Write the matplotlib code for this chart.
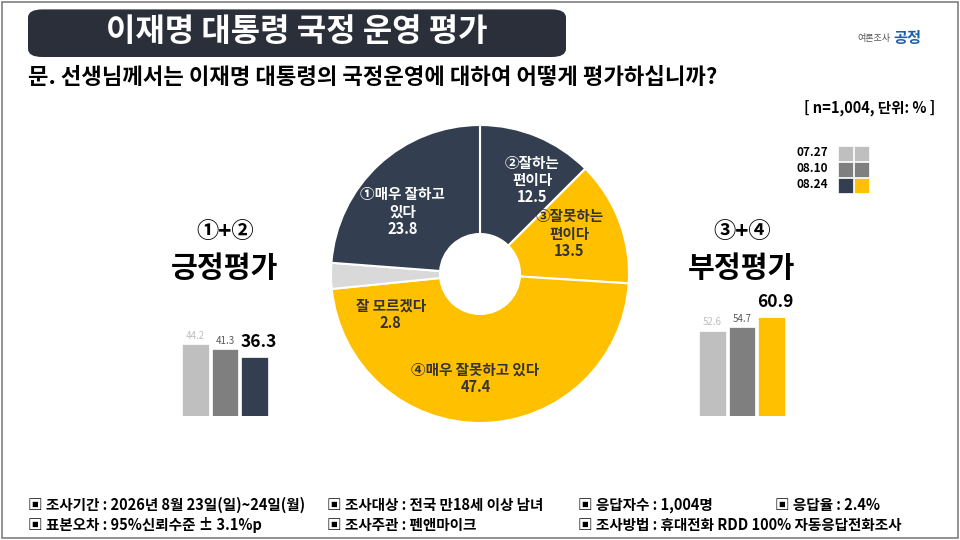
import matplotlib.pyplot as plt
from matplotlib.patches import FancyBboxPatch, Rectangle

plt.rcParams['font.family'] = ['Noto Sans CJK KR', 'DejaVu Sans']

pie_labels = ["②잘하는\n편이다", "③잘못하는\n편이다", "④매우 잘못하고 있다", "잘 모르겠다", "①매우 잘하고\n있다"]
pie_values = [12.5, 13.5, 47.4, 2.8, 23.8]
pie_colors = ["#333f50", "#ffc000", "#ffc000", "#d9d9d9", "#333f50"]

dates = ["07.27", "08.10", "08.24"]
pos_values = [44.2, 41.3, 36.3]
neg_values = [52.6, 54.7, 60.9]
pos_colors = ["#bfbfbf", "#7f7f7f", "#333f50"]
neg_colors = ["#bfbfbf", "#7f7f7f", "#ffc000"]

W, H = 960, 540
fig = plt.figure(figsize=(9.6, 5.4), dpi=100)
fig.patch.set_facecolor("white")

def fx(x):
    return x / W

def fy(y):
    return 1 - y / H

# border
fig.patches.append(Rectangle((0.002, 0.003), 0.996, 0.994, transform=fig.transFigure,
                             fill=False, edgecolor="#7f7f7f", lw=1.2))
# title box
fig.patches.append(FancyBboxPatch((fx(28), fy(57)), fx(538), 53 / H - 0.01, transform=fig.transFigure,
                                  boxstyle="round,pad=0,rounding_size=0.015", facecolor="#2b2f3a",
                                  edgecolor="none"))
fig.text(fx(297), fy(32), "이재명 대통령 국정 운영 평가", color="white", fontsize=23,
         fontweight="bold", ha="center", va="center")
fig.text(fx(890), fy(38), "여론조사", fontsize=6.5, color="#555555", ha="right", va="center")
fig.text(fx(893), fy(38), "공정", fontsize=11, color="#1f5fa8", fontweight="bold", ha="left", va="center")
fig.text(fx(28), fy(78), "문. 선생님께서는 이재명 대통령의 국정운영에 대하여 어떻게 평가하십니까?",
         fontsize=16, fontweight="bold", ha="left", va="center")
fig.text(fx(935), fy(108), "[ n=1,004, 단위: % ]", fontsize=10.5, fontweight="bold",
         ha="right", va="center")

# legend
lc = [["#bfbfbf", "#bfbfbf"], ["#7f7f7f", "#7f7f7f"], ["#333f50", "#ffc000"]]
for i, d in enumerate(dates):
    y = 153 + i * 16
    fig.text(fx(828), fy(y), d, fontsize=8.5, fontweight="bold", ha="right", va="center")
    for j in range(2):
        fig.patches.append(Rectangle((fx(838 + j * 16), fy(y + 8)), fx(15), 15 / H,
                                     transform=fig.transFigure, facecolor=lc[i][j],
                                     edgecolor="white", lw=0.5))

# pie
R = 149
ax = fig.add_axes([fx(480 - R), fy(274 + R), fx(2 * R), 2 * R / H])
wedges, _ = ax.pie(pie_values, colors=pie_colors, startangle=90, counterclock=False,
                   wedgeprops=dict(width=1 - 40 / R, edgecolor="white", lw=1.5))
ax.set_xlim(-1, 1)
ax.set_ylim(-1, 1)
ax.set_aspect("equal")
label_pos = [(0.35, 0.63), (0.6, 0.27), (-0.03, -0.7), (-0.6, -0.27), (-0.52, 0.42)]
txt_colors = ["white", "#333333", "#333333", "#333333", "white"]
for lab, v, (x, y), c in zip(pie_labels, pie_values, label_pos, txt_colors):
    ax.text(x, y, f"{lab}\n{v}", ha="center", va="center", fontsize=10.5,
            fontweight="bold", color=c, linespacing=1.1)

# side bars
def side(x0, head, values, colors, title):
    fig.text(fx(x0 + 44), fy(232), head, fontsize=16, fontweight="bold", ha="center", va="center")
    fig.text(fx(x0 + 44), fy(268), title, fontsize=21, fontweight="bold", ha="center", va="center")
    bx = fig.add_axes([fx(x0), fy(416), fx(88), 130 / H])
    bars = bx.bar(range(3), values, color=colors, width=0.92, edgecolor="white", lw=0.5)
    bx.set_xlim(-0.5, 2.5)
    bx.set_ylim(0, 80)
    bx.axis("off")
    for k, (b, v) in enumerate(zip(bars, values)):
        if k == 2:
            bx.text(b.get_x() + b.get_width() / 2 + 0.15, v + 4, f"{v}", ha="center",
                    va="bottom", fontsize=12.5, fontweight="bold")
        else:
            bx.text(b.get_x() + b.get_width() / 2, v + 2, f"{v}", ha="center", va="bottom",
                    fontsize=7, color="#bfbfbf" if k == 0 else "#595959")

side(181, "①+②", pos_values, pos_colors, "긍정평가")
side(698, "③+④", neg_values, neg_colors, "부정평가")

# footer
row1 = [(28, "▣ 조사기간 : 2026년 8월 23일(일)~24일(월)"), (327, "▣ 조사대상 : 전국 만18세 이상 남녀"),
        (578, "▣ 응답자수 : 1,004명"), (775, "▣ 응답율 : 2.4%")]
row2 = [(28, "▣ 표본오차 : 95%신뢰수준 ± 3.1%p"), (327, "▣ 조사주관 : 펜앤마이크"),
        (578, "▣ 조사방법 : 휴대전화 RDD 100% 자동응답전화조사")]
for x, t in row1:
    fig.text(fx(x), fy(505), t, fontsize=10.5, fontweight="bold", ha="left", va="center")
for x, t in row2:
    fig.text(fx(x), fy(525), t, fontsize=10.5, fontweight="bold", ha="left", va="center")

fig.savefig("out.png", dpi=100)
